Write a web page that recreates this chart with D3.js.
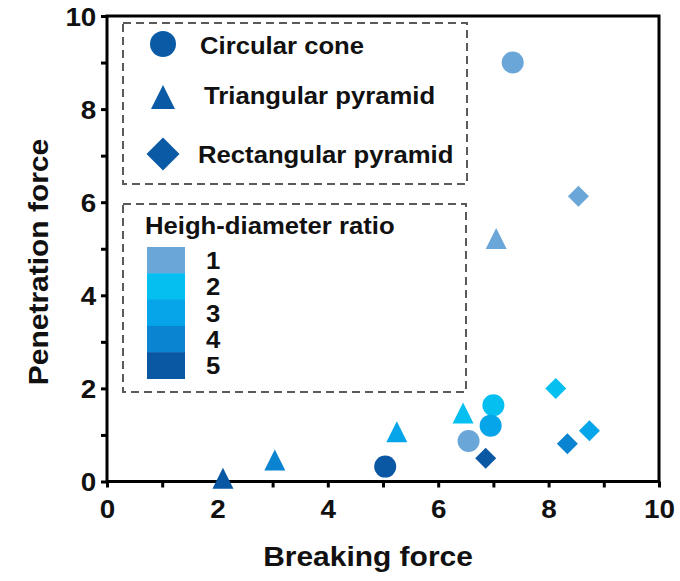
<!DOCTYPE html>
<html>
<head>
<meta charset="utf-8">
<script src="https://cdn.jsdelivr.net/npm/d3@7"></script>
<style>
  html, body { margin: 0; padding: 0; background: #fff; }
  svg { display: block; font-family: "Liberation Sans", Arial, sans-serif; font-weight: bold; }
</style>
</head>
<body>
<svg id="chart" width="680" height="581"></svg>
<script>
// Breaking force vs penetration force for three tip geometries,
// coloured by height-diameter ratio.
const shapes = ["Circular cone", "Triangular pyramid", "Rectangular pyramid"];
const ratios = [1, 2, 3, 4, 5];
const ratioColors = ["#6aa6d8", "#05bff0", "#06a5ea", "#0a84d0", "#0a57a3"];
const legendShapeColor = "#0b5aa6";

// Each series: breaking force, penetration force, ratio per point
const coneBreaking      = [7.35, 7.00, 6.95, 6.55, 5.04];
const conePenetration   = [9.00, 1.64, 1.20, 0.87, 0.32];
const coneRatio         = [1, 2, 3, 1, 5];

const triBreaking       = [7.05, 6.45, 5.25, 3.04, 2.10];
const triPenetration    = [5.22, 1.47, 1.07, 0.46, 0.07];
const triRatio          = [1, 2, 3, 4, 5];

const rectBreaking      = [8.54, 8.13, 8.74, 8.34, 6.86];
const rectPenetration   = [6.13, 2.00, 1.09, 0.81, 0.50];
const rectRatio         = [1, 2, 3, 4, 5];

const xTicks = [0, 2, 4, 6, 8, 10];
const yTicks = [0, 2, 4, 6, 8, 10];
const minorTicks = d3.range(0, 11, 1);

const svg = d3.select("#chart");
const margin = { left: 107, right: 21, top: 16, bottom: 99.5 };
const W = 680, H = 581;
const x = d3.scaleLinear().domain([0, 10]).range([margin.left, W - margin.right]);
const y = d3.scaleLinear().domain([0, 10]).range([H - margin.bottom, margin.top]);
const color = d3.scaleOrdinal().domain(ratios).range(ratioColors);

// The lettering is a slightly wide bold sans; stretch glyphs horizontally
const stretch = 1.07;
function label(px, py, str, size, anchor, rot) {
  const t = `translate(${px},${py})` + (rot ? ` rotate(${rot})` : "") + ` scale(${stretch},1)`;
  return svg.append("text").attr("transform", t)
    .attr("font-size", size).attr("fill", "#111")
    .attr("text-anchor", anchor || "start").text(str);
}

// Symbol paths whose bounding boxes are centred on the point
function markPath(kind, s) {
  const p = d3.path();
  const h = s / 2;
  if (kind === "circle") {
    p.arc(0, 0, h, 0, 2 * Math.PI);
  } else if (kind === "triangle") {
    p.moveTo(0, -h); p.lineTo(h, h); p.lineTo(-h, h); p.closePath();
  } else {
    p.moveTo(0, -h); p.lineTo(h, 0); p.lineTo(0, h); p.lineTo(-h, 0); p.closePath();
  }
  return p.toString();
}

const series = [
  { kind: "circle",   size: 22, xs: coneBreaking, ys: conePenetration, rs: coneRatio },
  { kind: "triangle", size: 21, xs: triBreaking,  ys: triPenetration,  rs: triRatio },
  { kind: "diamond",  size: 21, xs: rectBreaking, ys: rectPenetration, rs: rectRatio }
];

// Legends (drawn first so markers sit above)
const dash = "8,5";
const legend1 = { x0: 123, y0: 23, x1: 467, y1: 184 };
svg.append("rect")
  .attr("x", legend1.x0).attr("y", legend1.y0)
  .attr("width", legend1.x1 - legend1.x0).attr("height", legend1.y1 - legend1.y0)
  .attr("fill", "none").attr("stroke", "#5a5a5a").attr("stroke-width", 2)
  .attr("stroke-dasharray", dash);

const shapeLegend = [
  { kind: "circle",   size: 26, cy: 44,  tx: 200, ty: 54 },
  { kind: "triangle", size: 24, cy: 97,  tx: 204, ty: 104 },
  { kind: "diamond",  size: 33, cy: 154, tx: 198, ty: 163 }
];
shapeLegend.forEach((d, i) => {
  svg.append("path").attr("d", markPath(d.kind, d.size))
    .attr("transform", `translate(163,${d.cy})`)
    .attr("fill", legendShapeColor);
  label(d.tx, d.ty, shapes[i], 24);
});

const legend2 = { x0: 123, y0: 204, x1: 466, y1: 392 };
svg.append("rect")
  .attr("x", legend2.x0).attr("y", legend2.y0)
  .attr("width", legend2.x1 - legend2.x0).attr("height", legend2.y1 - legend2.y0)
  .attr("fill", "none").attr("stroke", "#5a5a5a").attr("stroke-width", 2)
  .attr("stroke-dasharray", dash);
label(145, 234, "Heigh-diameter ratio", 24);

const swatchTop = 247, swatchH = 26.3;
ratios.forEach((r, i) => {
  svg.append("rect")
    .attr("x", 147).attr("y", swatchTop + i * swatchH)
    .attr("width", 38).attr("height", swatchH + 0.5)
    .attr("fill", color(r));
  label(206, swatchTop + i * swatchH + swatchH / 2 + 9, r, 24);
});

// Axes
const xAxis = d3.axisBottom(x).tickValues(minorTicks).tickSize(6)
  .tickFormat(d => xTicks.includes(d) ? d : "");
const yAxis = d3.axisLeft(y).tickValues(minorTicks).tickSize(6)
  .tickFormat(d => yTicks.includes(d) ? d : "");

const gx = svg.append("g").attr("transform", `translate(0,${y(0)})`).call(xAxis);
const gy = svg.append("g").attr("transform", `translate(${x(0)},0)`).call(yAxis);
[gx, gy].forEach(g => {
  g.select(".domain").remove();
  g.selectAll(".tick line").attr("stroke", "#000").attr("stroke-width", 3);
  g.selectAll(".tick text").attr("font-size", 26).attr("font-weight", "bold")
    .attr("font-family", "Liberation Sans, Arial, sans-serif").attr("fill", "#111")
    .attr("transform", `scale(${stretch},1)`);
});
gx.selectAll(".tick text").attr("dy", "0.71em").attr("y", 18);
gy.selectAll(".tick text").attr("x", -10).attr("dy", "0.36em");

// Plot frame
svg.append("rect")
  .attr("x", x(0)).attr("y", y(10))
  .attr("width", x(10) - x(0)).attr("height", y(0) - y(10))
  .attr("fill", "none").attr("stroke", "#000").attr("stroke-width", 3);

// Axis titles
label(368, 566, "Breaking force", 28, "middle");
label(48, 262, "Penetration force", 28, "middle", -90);

// Markers
series.forEach(s => {
  svg.append("g").selectAll("path")
    .data(s.xs.map((v, i) => ({ bx: v, py: s.ys[i], r: s.rs[i] })))
    .join("path")
    .attr("d", markPath(s.kind, s.size))
    .attr("transform", d => `translate(${x(d.bx)},${y(d.py)})`)
    .attr("fill", d => color(d.r));
});
</script>
</body>
</html>
